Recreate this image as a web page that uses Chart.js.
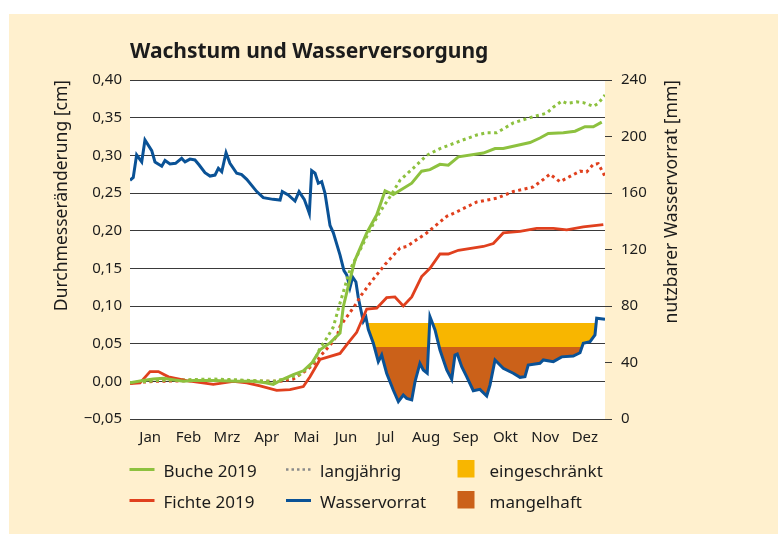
<!DOCTYPE html>
<html><head><meta charset="utf-8">
<script src="https://cdn.jsdelivr.net/npm/chart.js@4/dist/chart.umd.min.js"></script>
<style>
html,body{margin:0;padding:0;background:#fff;width:778px;height:534px;overflow:hidden;}
#bg{position:absolute;left:9px;top:14px;width:769px;height:520px;background:#FFF0CE;}
#wrap{position:absolute;left:0;top:0;width:778px;height:534px;}
</style></head><body>
<div id="bg"></div>
<div id="wrap"><canvas id="c" width="778" height="534"></canvas></div>
<script>
const titleText = 'Wachstum und Wasserversorgung';
const leftTitle = 'Durchmesseränderung [cm]';
const rightTitle = 'nutzbarer Wasservorrat [mm]';
const months = ['Jan','Feb','Mrz','Apr','Mai','Jun','Jul','Aug','Sep','Okt','Nov','Dez'];
const monthDays = [31,28,31,30,31,30,31,31,30,31,30,31];
const leftTicks = [-0.05,0,0.05,0.10,0.15,0.20,0.25,0.30,0.35,0.40];
const rightTicks = [0,40,80,120,160,200,240];
const limitRestricted = 68;  // eingeschränkt
const limitDeficient = 51;   // mangelhaft

const bucheDays = [0,10,17.9,25.6,33,41,48.6,64,82,94.7,104,110.1,115.3,125.5,133.2,140,146,153.7,161.4,163.9,167.7,172.9,181.9,189.6,196,202.3,216.5,224.1,230.5,238.2,244.6,252.3,271.5,280.5,286.8,297.1,307.4,315,321.4,333,342,349.6,356,362.5];
const bucheValues = [-0.002,0.001,0.003,0.004,0.002,0,0.001,0.001,0,0,-0.002,-0.004,0.001,0.009,0.014,0.025,0.042,0.051,0.064,0.099,0.126,0.161,0.197,0.221,0.253,0.248,0.263,0.279,0.281,0.288,0.287,0.298,0.303,0.309,0.309,0.313,0.317,0.323,0.329,0.330,0.332,0.338,0.338,0.344];

const bucheLangDays = [0,20,40,64,82,94.7,110.1,120.4,130.6,140.8,146,151.1,156.2,161.4,169,176.7,184.4,192.1,199.8,207.5,217.7,228,238.2,253.6,266.4,274.1,281.8,294.5,307.4,320.2,325.3,331.7,335.6,343.2,348.3,356,359.8,365];
const bucheLangValues = [-0.002,0.001,0.002,0.003,0.002,0.001,0,0.004,0.009,0.024,0.044,0.057,0.072,0.104,0.148,0.174,0.201,0.225,0.245,0.267,0.283,0.300,0.309,0.319,0.327,0.330,0.330,0.343,0.350,0.356,0.364,0.372,0.369,0.371,0.370,0.365,0.369,0.380];

const fichteDays = [0,7.7,15.4,21.8,29.5,43.5,64,79.4,89.7,99.9,112.7,122.9,133.2,138.3,146,161.4,168.1,174.2,181.9,189.6,197.2,203.6,210,216.5,224.1,230.5,238.2,244.6,252.3,271.5,279.2,286.8,299.7,312.5,325.3,335.6,348.3,363.7];
const fichteValues = [-0.003,-0.002,0.013,0.013,0.006,0.001,-0.004,0,-0.002,-0.006,-0.012,-0.011,-0.007,0.006,0.029,0.037,0.052,0.065,0.096,0.097,0.111,0.112,0.100,0.112,0.139,0.150,0.169,0.169,0.174,0.179,0.183,0.197,0.199,0.203,0.203,0.201,0.205,0.208];

const fichteLangDays = [0,20,50,80,100,115.3,125.5,135.8,143.4,146,156.2,159.8,161.4,174.2,176.7,184.4,195.9,207.5,212.6,228,243.4,251,266.4,281.8,294.5,299.7,309.9,317.6,322.7,330.4,338.1,345.8,350.9,356,359.8,365];
const fichteLangValues = [-0.002,0,0.001,0.001,0,0,0.003,0.015,0.026,0.033,0.053,0.064,0.073,0.104,0.112,0.130,0.155,0.177,0.179,0.197,0.219,0.225,0.238,0.243,0.252,0.254,0.258,0.268,0.275,0.265,0.272,0.279,0.278,0.288,0.289,0.272];

const wasserDays = [0,2.5,5.1,9,11.5,16.7,19.2,24.4,26.9,30.7,35,39.7,42.3,46.1,49.9,53,57.6,61.5,65.3,67.9,70.5,73.8,76.8,82,85.8,89.7,97.4,102.4,110,115.3,117,121.6,126.8,129.9,133.9,136.5,137.8,139.6,142.2,144.7,147.3,149.8,153.7,156.2,161.4,164.4,166.5,169,171.1,173.6,175.4,179.3,181.3,183.1,187,190.8,193.4,197.2,202.3,206.2,210,212.6,216.5,219,222.8,225.4,228.4,230.5,234.4,238.2,243.4,247.2,249.7,251.5,254.9,258.7,263.8,268.9,274.1,276.6,280.5,286.8,294.5,299.7,303.5,306,315,317.6,325.3,331.7,340.6,345.8,348.3,353.5,357.3,358.6,365];
const wasserValues = [169,171,187,182,197.5,190,182,179,183,180.5,181,184.5,182,184,183.4,180,174.4,172,172.7,177.5,175,188.5,181,174,173,169.7,161,156.7,155.5,155,161,158.6,154.3,161,155.5,149,145.6,175.8,174,166.9,168,160,137,132,116,105,102,93,100.5,97,86,69,72,63.5,53.6,40.6,45.3,32.4,20.5,12.3,17,14.6,13.5,26.4,39.4,34.7,32.4,72.4,63,48.8,34.7,28.1,45.3,46,37,30,20,21,16.3,24,41.8,35.9,32.4,29.5,30,38.2,39.4,41.8,40.6,44,44.6,46.9,53.6,54.7,59.5,71.3,70.6];

const C = {
  green:'#8DC13F', red:'#E0401E', blue:'#0A5296', orange:'#F8B600', brown:'#CB6119',
  gray:'#8a8a8a', text:'#1c1c1c', grid:'#3a3a3a', plot:'#ffffff'
};
const FONT = '"Noto Sans", sans-serif';

const pts = (d, v) => d.map((x, i) => ({x, y: v[i]}));
const monthMids = [];
{ let s = 0; for (const n of monthDays) { monthMids.push(s + n / 2); s += n; } }
const yearDays = monthDays.reduce((a, b) => a + b, 0);
const fmt = v => (v < 0 ? '\u2212' : '') + Math.abs(v).toFixed(2).replace('.', ',');

const decor = {
  id: 'decor',
  beforeDraw(chart) {
    const {ctx, chartArea: a} = chart;
    ctx.save();
    ctx.fillStyle = C.plot;
    ctx.fillRect(a.left, a.top, a.right - a.left, a.bottom - a.top);
    ctx.restore();
  },
  afterDraw(chart) {
    const {ctx, chartArea: a} = chart;
    ctx.save();
    ctx.fillStyle = C.text;
    ctx.textAlign = 'left';
    ctx.textBaseline = 'alphabetic';
    ctx.font = 'bold 21px ' + FONT;
    ctx.fillText(titleText, a.left, 58);

    ctx.font = '17.5px ' + FONT;
    ctx.textAlign = 'right';
    ctx.textBaseline = 'middle';
    ctx.save(); ctx.translate(62, a.top); ctx.rotate(-Math.PI / 2); ctx.fillText(leftTitle, 0, 0); ctx.restore();
    ctx.save(); ctx.translate(672, a.top); ctx.rotate(-Math.PI / 2); ctx.fillText(rightTitle, 0, 0); ctx.restore();

    // legend
    const items = [
      {t:'Buche 2019', kind:'line', c:C.green, col:0, row:0},
      {t:'Fichte 2019', kind:'line', c:C.red, col:0, row:1},
      {t:'langjährig', kind:'dot', c:C.gray, col:1, row:0},
      {t:'Wasservorrat', kind:'line', c:C.blue, col:1, row:1},
      {t:'eingeschränkt', kind:'box', c:C.orange, col:2, row:0},
      {t:'mangelhaft', kind:'box', c:C.brown, col:2, row:1}
    ];
    const colX = [a.left - 0.5, a.left + 156, a.left + 327.5];
    const rowY = [a.bottom + 50.5, a.bottom + 81.5];
    ctx.font = '17px ' + FONT;
    ctx.textAlign = 'left';
    ctx.textBaseline = 'alphabetic';
    for (const it of items) {
      const x = colX[it.col], y = rowY[it.row];
      if (it.kind === 'box') {
        ctx.fillStyle = it.c;
        ctx.fillRect(x, y - 9.5, 17, 17.5);
        ctx.fillStyle = C.text;
        ctx.fillText(it.t, x + 32, y + 7.5);
      } else {
        ctx.save();
        ctx.strokeStyle = it.c;
        ctx.lineWidth = it.kind === 'dot' ? 2.5 : 3;
        ctx.setLineDash(it.kind === 'dot' ? [2.5, 3] : []);
        ctx.beginPath(); ctx.moveTo(x, y); ctx.lineTo(x + 25, y); ctx.stroke();
        ctx.restore();
        ctx.fillStyle = C.text;
        ctx.fillText(it.t, x + 34, y + 7.5);
      }
    }
    ctx.restore();
  }
};

new Chart(document.getElementById('c'), {
  type: 'line',
  data: {
    datasets: [
      {label:'Buche 2019', data: pts(bucheDays, bucheValues), yAxisID:'y', borderColor:C.green, borderWidth:3, pointRadius:0, tension:0, fill:false},
      {label:'Fichte 2019', data: pts(fichteDays, fichteValues), yAxisID:'y', borderColor:C.red, borderWidth:2.8, pointRadius:0, tension:0, fill:false},
      {label:'Buche langjährig', data: pts(bucheLangDays, bucheLangValues), yAxisID:'y', borderColor:C.green, borderWidth:3, borderDash:[3,3.5], pointRadius:0, tension:0, fill:false},
      {label:'Fichte langjährig', data: pts(fichteLangDays, fichteLangValues), yAxisID:'y', borderColor:C.red, borderWidth:3, borderDash:[3,3.5], pointRadius:0, tension:0, fill:false},
      {label:'mangelhaft', data: pts(wasserDays, wasserValues), yAxisID:'y1', borderColor:'rgba(0,0,0,0)', borderWidth:0, pointRadius:0, tension:0,
        fill:{target:{value:limitDeficient}, above:'rgba(0,0,0,0)', below:C.brown}},
      {label:'Wasservorrat', data: pts(wasserDays, wasserValues), yAxisID:'y1', borderColor:C.blue, borderWidth:3, pointRadius:0, tension:0,
        fill:{target:{value:limitRestricted}, above:'rgba(0,0,0,0)', below:C.orange}}
    ]
  },
  options: {
    responsive:false, animation:false, devicePixelRatio:1,
    layout:{padding:{top:80, left:0, right:0, bottom:0}},
    plugins:{legend:{display:false}, title:{display:false}, tooltip:{enabled:false}, filler:{drawTime:'beforeDatasetsDraw'}},
    scales:{
      x:{type:'linear', min:0, max:yearDays,
        afterBuildTicks:s=>{s.ticks = monthMids.map(v=>({value:v}));},
        afterFit:s=>{s.height = 115;},
        ticks:{callback:(v,i)=>months[i], autoSkip:false, maxRotation:0, padding:10, color:C.text, font:{family:FONT, size:15}},
        grid:{display:false, drawTicks:false}, border:{display:false}},
      y:{position:'left', min:-0.05, max:0.40,
        afterBuildTicks:s=>{s.ticks = leftTicks.map(v=>({value:v}));},
        afterFit:s=>{s.width = 130;},
        ticks:{callback:v=>fmt(v), padding:8, color:C.text, font:{family:FONT, size:15}},
        grid:{color:C.grid, lineWidth:1, drawTicks:false}, border:{display:false}},
      y1:{position:'right', min:0, max:240,
        afterBuildTicks:s=>{s.ticks = rightTicks.map(v=>({value:v}));},
        afterFit:s=>{s.width = 173;},
        ticks:{padding:9, color:C.text, font:{family:FONT, size:15}},
        grid:{drawOnChartArea:false, drawTicks:true, tickLength:7, color:C.grid, lineWidth:1}, border:{display:false}}
    }
  },
  plugins:[decor]
});
</script>
</body></html>
